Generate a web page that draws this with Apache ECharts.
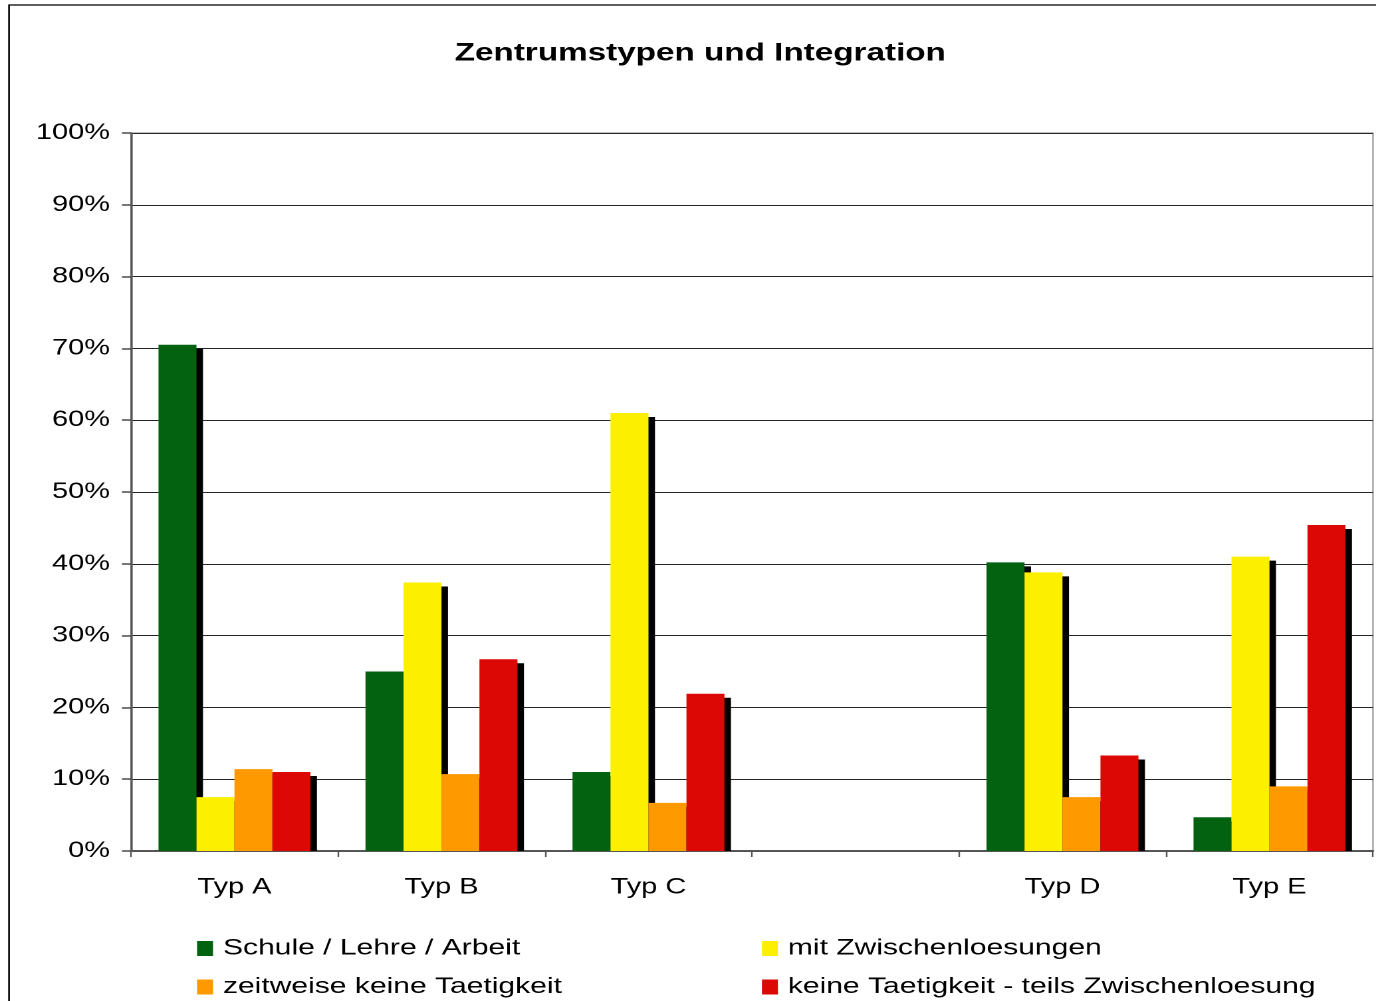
<!DOCTYPE html>
<html>
<head>
<meta charset="utf-8">
<title>Zentrumstypen und Integration</title>
<script src="https://cdn.jsdelivr.net/npm/echarts@6/dist/echarts.min.js"></script>
<style>
  html, body { margin: 0; padding: 0; background: #fff; overflow: hidden; }
  /* The chart is laid out on a narrower canvas and widened horizontally,
     which gives the wide, stretched lettering of the original sheet. */
  #chart {
    width: 1035px;
    height: 1001px;
    transform: scaleX(1.3295);
    transform-origin: 0 0;
  }
</style>
</head>
<body>
<div id="chart"></div>
<script>
// Categories (the fourth slot is an intentional empty gap)
const categories = ['Typ A', 'Typ B', 'Typ C', '', 'Typ D', 'Typ E'];

// Series names
const seriesNames = [
  'Schule / Lehre / Arbeit',
  'mit Zwischenloesungen',
  'zeitweise keine Taetigkeit',
  'keine Taetigkeit - teils Zwischenloesung'
];

// Shares in percent per category
const schuleLehreArbeit   = [70.5, 25.0, 11.0, null, 40.2, 4.7];
const mitZwischen         = [7.5, 37.4, 61.0, null, 38.8, 41.0];
const zeitweiseKeine      = [11.4, 10.7, 6.7, null, 7.5, 9.0];
const keineTeilsZwischen  = [11.0, 26.7, 21.9, null, 13.3, 45.4];

// Y axis ticks
const yMin = 0, yMax = 100, yStep = 10;

const seriesValues = [schuleLehreArbeit, mitZwischen, zeitweiseKeine, keineTeilsZwischen];
const colors = ['#02620f', '#fcf000', '#fe9900', '#dc0805'];

const FONT = '"Liberation Sans", Arial, sans-serif';
const GAP = 0.266;          // category gap share
const SH_X = 4.9, SH_Y = 4; // drop shadow offset

const chart = echarts.init(document.getElementById('chart'), null, { devicePixelRatio: 2 });

// Black drop shadow behind each bar, drawn with the same category scale
function shadowSeries(k) {
  return {
    type: 'custom',
    name: seriesNames[k] + ' (Schatten)',
    z: 2 + 2 * k,
    silent: true,
    legendHoverLink: false,
    data: seriesValues[k].map((v, i) => [i, v]),
    encode: { x: 0, y: 1 },
    renderItem: function (params, api) {
      const v = api.value(1);
      if (v == null || isNaN(v)) return null;
      const idx = api.value(0);
      const base = api.coord([idx, 0]);
      const top = api.coord([idx, v]);
      const band = api.size([1, 0])[0];
      const bw = band * (1 - GAP) / 4;
      const left = base[0] - band * (1 - GAP) / 2 + k * bw;
      return {
        type: 'rect',
        shape: { x: left + SH_X, y: top[1] + SH_Y, width: bw, height: base[1] - top[1] - SH_Y },
        style: { fill: '#000' }
      };
    }
  };
}

const series = [];
seriesValues.forEach((vals, k) => {
  series.push(shadowSeries(k));
  series.push({
    type: 'bar',
    name: seriesNames[k],
    z: 3 + 2 * k,
    data: vals,
    barGap: '0%',
    barCategoryGap: (GAP * 100) + '%',
    itemStyle: { color: colors[k] }
  });
});

function legendAt(k, left, top) {
  return {
    data: [seriesNames[k]],
    left: left,
    top: top,
    padding: 0,
    itemWidth: 12,
    itemHeight: 15,
    selectedMode: false,
    icon: 'rect',
    textStyle: { fontFamily: FONT, fontSize: 22.6, color: '#000', padding: [0, 0, 0, 2.5] }
  };
}

chart.setOption({
  animation: false,
  backgroundColor: '#fff',
  color: colors,
  title: {
    text: 'Zentrumstypen und Integration',
    left: 337,
    top: 36,
    textStyle: { fontFamily: FONT, fontSize: 25.0, fontWeight: 'bold', color: '#000' }
  },
  legend: [
    legendAt(0, 148.2, 937),
    legendAt(1, 573.1, 937),
    legendAt(2, 148.2, 975.5),
    legendAt(3, 573.1, 975.5)
  ],
  graphic: [{
    type: 'rect',
    silent: true,
    z: 0,
    shape: { x: 6.8, y: 5, width: 3000, height: 3000 },
    style: { fill: 'none', stroke: '#000', lineWidth: 1.3 }
  }],
  grid: {
    left: 98.5,
    right: 2.3,
    top: 133,
    bottom: 150,
    show: true,
    borderColor: '#888',
    borderWidth: 1,
    backgroundColor: 'transparent'
  },
  xAxis: {
    type: 'category',
    data: categories,
    axisLine: { lineStyle: { color: '#555', width: 2 } },
    axisTick: { show: true, alignWithLabel: false, length: 6, lineStyle: { color: '#555', width: 1.2 } },
    axisLabel: { fontFamily: FONT, fontSize: 21.8, color: '#000', margin: 25.5 },
    splitLine: { show: false }
  },
  yAxis: {
    type: 'value',
    min: yMin,
    max: yMax,
    interval: yStep,
    axisLine: { show: true, lineStyle: { color: '#555', width: 1.6 } },
    axisTick: { show: true, length: 6.8, lineStyle: { color: '#555', width: 1.6 } },
    axisLabel: { fontFamily: FONT, fontSize: 21.8, color: '#000', margin: 15.8, padding: [3, 0, 0, 0], formatter: '{value}%' },
    splitLine: { show: true, lineStyle: { color: '#262626', width: 1 } }
  },
  series: series
});
</script>
</body>
</html>
